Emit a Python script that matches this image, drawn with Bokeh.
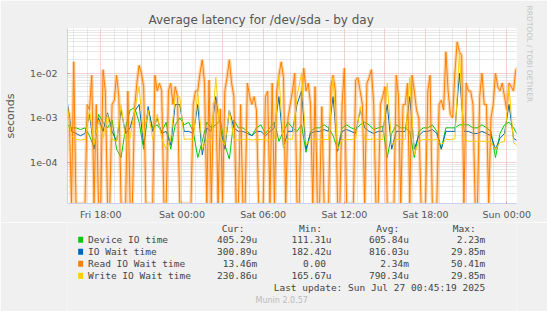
import numpy as np
from bokeh.plotting import figure
from bokeh.models import FixedTicker, Range1d, Title
from bokeh.layouts import column
from bokeh.core.properties import value
from bokeh.embed import file_html
from bokeh.resources import INLINE

# ---------------- data (seconds) ----------------
start_hour = -8.5          # hours relative to Sat 00:00
step_hours = 1.0 / 3.0     # device / io wait / write: one sample every 20 minutes
read_step_hours = 1.0 / 6.0  # read: one sample every 10 minutes

device_io = [
    7e-4, 6e-4, 6e-4, 5.5e-4, 6e-4, 4e-4, 2.2e-4, 1.2e-3, 8e-4, 6e-4,
    9e-4, 2e-4, 1.3e-4, 6e-4, 1.5e-3, 1.7e-3, 8e-4, 2e-4, 1.5e-3, 6e-4,
    7e-4, 5e-4, 8e-4, 2e-4, 7e-4,
    1e-3, 7e-4, 8e-4, 5e-4, 1.3e-4, 3e-4, 8e-4, 6e-4, 7e-4, 9e-4,
    2.5e-4, 1.2e-4, 9e-4, 6e-4, 6e-4, 5e-4, 4e-4, 6e-4, 7e-4, 4.5e-4,
    6e-4, 8e-4, 3e-4, 5e-4, 8e-4,
    6e-4, 5e-4, 7e-4, 1.7e-4, 5e-4, 6e-4, 6e-4, 7e-4, 6e-4, 4e-4,
    2e-4, 6e-4, 7e-4, 6e-4, 5.5e-4, 7e-4, 8e-4, 7e-4, 5.5e-4, 6e-4,
    6.5e-4, 1.3e-4, 4.5e-4, 7e-4, 6e-4,
    6e-4, 5e-4, 1.3e-4, 5e-4, 6e-4, 6e-4, 7e-4, 5e-4, 2e-4, 6e-4,
    6e-4, 6e-4, 7e-4, 7e-4, 7e-4, 6e-4, 6e-4, 7e-4, 6e-4, 5e-4,
    1.3e-4, 4.5e-4, 7e-4, 8e-4, 6e-4, 4.05e-4,
]
io_wait = [
    2.5e-3, 5e-4, 4.5e-4, 4e-4, 4.5e-4, 1.2e-3, 2e-4, 1e-3, 5e-4, 1.3e-3,
    5e-4, 3e-4, 1.5e-3, 4.5e-4, 6e-4, 1.4e-3, 2e-3, 2.5e-4, 1.8e-3, 5e-4,
    1e-3, 4.5e-4, 5e-4, 2.5e-4, 2e-3,
    2e-3, 5e-4, 5e-4, 4.5e-4, 2e-3, 1.5e-4, 6e-4, 5e-4, 3e-3, 6e-4,
    2e-4, 1.5e-3, 6e-4, 5e-4, 5e-4, 4.5e-4, 4e-4, 5e-4, 5e-4, 4e-4,
    5e-4, 6e-4, 3e-3, 2.2e-4, 5e-4,
    5e-4, 2e-3, 4e-3, 2e-4, 4.5e-4, 5e-4, 5e-4, 5.5e-4, 5e-4, 3e-3,
    1.8e-4, 5e-4, 5.5e-4, 5e-4, 4.5e-4, 1.5e-3, 6e-4, 5e-4, 4.5e-4, 5e-4,
    5e-4, 2e-3, 2e-4, 5e-4, 5e-4,
    5e-4, 3e-3, 2e-4, 4e-4, 5e-4, 5e-4, 5.5e-4, 4.5e-4, 2e-4, 5e-4,
    5e-4, 5e-4, 1e-2, 5e-4, 5e-4, 4.5e-4, 4.5e-4, 5e-4, 4.5e-4, 4e-4,
    2e-4, 3.5e-4, 4.5e-4, 2e-3, 3.5e-4, 3.01e-4,
]
read_io = [
    1.7e-3, 1.2e-3, 0, 0.018, 0, 0, 0, 0, 0, 2e-3,
    1.5e-3, 0.009, 0, 2e-3, 0, 0, 0.012, 0.004, 0, 0,
    2e-3, 2.5e-3, 0.009, 0.003, 0, 0, 0, 0.004, 0, 0,
    1.7e-3, 0.006, 0.015, 0.01, 0.005, 0, 0, 0, 0, 0.009,
    0.004, 0.006, 0.004, 0, 0, 0.004, 0.006, 0.002, 0.005, 0.003,
    0, 0, 0, 0, 0, 0, 0.002, 0.004, 0.004, 0.01,
    0.02, 0.006, 0, 0.007, 0, 2e-3, 2.5e-3, 0, 1.6e-3, 0,
    0.004, 0.008, 0.02, 0.006, 0.003, 0, 0, 2e-3, 0, 0,
    0.006, 0.003, 2e-3, 3e-3, 1.5e-3, 0, 0, 0, 0.003, 0.004,
    0, 0.006, 0, 0.004, 0.009, 0.018, 0.008, 0, 1e-3, 0.002,
    0.004, 0.01, 0, 0, 0.003, 0.013, 0.004, 0.006, 0.002, 0,
    0.005, 0, 0, 1.8e-3, 0, 0, 0, 0.005, 0.009, 0.004,
    0, 0, 2e-3, 0.013, 0, 0, 0, 0, 0.007, 0.008,
    0.004, 0.002, 0, 0.006, 0.008, 0.012, 2e-3, 0, 0, 2e-3,
    0.003, 0.005, 0, 0, 0, 0, 0.009, 0.003, 0, 0.002,
    0.002, 0.006, 0, 0.009, 0.004, 1.5e-3, 1e-3, 0, 0, 0,
    0.004, 0.009, 0, 0, 0, 2e-3, 2.5e-3, 1.5e-3, 0.03, 0.004,
    1.2e-3, 0.001, 0.01, 0.05, 0.03, 0.025, 0, 0.006, 0.004, 0.004,
    0.002, 0, 0, 0.003, 0.01, 2e-3, 0.002, 0, 0.001, 2e-3,
    0.01, 0.005, 0.004, 0.006, 0.003, 1.5e-3, 0.006, 0.005, 0.004, 0.012,
    0.01346,
]
write_io = [
    2e-3, 4e-4, 3.3e-4, 3.2e-4, 3.3e-4, 1.5e-3, 2.5e-4, 9e-4, 3.5e-4, 1.2e-3,
    3.3e-4, 3e-4, 2e-3, 3.2e-4, 3.5e-4, 1.5e-3, 5e-3, 3.5e-4, 1.5e-3, 3.3e-4,
    1.2e-3, 3.5e-4, 2e-4, 3.3e-4, 3e-3,
    3e-3, 3.3e-4, 3.4e-4, 3.3e-4, 4e-3, 2e-4, 3.3e-4, 3.3e-4, 8e-3, 3.5e-4,
    2.5e-4, 1.5e-3, 3.3e-4, 3.2e-4, 3.3e-4, 3.4e-4, 3.2e-4, 3.3e-4, 3.3e-4, 3.2e-4,
    3.3e-4, 3.4e-4, 9e-3, 2.2e-4, 3.4e-4,
    3.3e-4, 3e-3, 1e-2, 2.5e-4, 3.3e-4, 3.4e-4, 3.3e-4, 3.3e-4, 3.3e-4, 8e-3,
    2e-4, 3.3e-4, 3.3e-4, 3.3e-4, 3.4e-4, 1.8e-3, 3.3e-4, 3.3e-4, 3.4e-4, 3.3e-4,
    3.3e-4, 6e-3, 2.5e-4, 3.3e-4, 3.3e-4,
    3.3e-4, 8e-3, 1.5e-4, 3e-4, 3.3e-4, 3.3e-4, 3.2e-4, 3.3e-4, 2.5e-4, 3.3e-4,
    3.3e-4, 3.4e-4, 3e-2, 3.3e-4, 3e-4, 3e-4, 3e-4, 3e-4, 3e-4, 2.8e-4,
    2e-4, 2.8e-4, 3e-4, 5e-3, 2.8e-4, 2.3086e-4,
]

series_names = ["Device IO time", "IO Wait time", "Read IO Wait time", "Write IO Wait time"]
series_colors = ["#00CC00", "#0066B3", "#FF8000", "#FFCC00"]
cur_vals = ["405.29u", "300.89u", "13.46m", "230.86u"]
min_vals = ["111.31u", "182.42u", "0.00", "165.67u"]
avg_vals = ["605.84u", "816.03u", "2.34m", "790.34u"]
max_vals = ["2.23m", "29.85m", "50.41m", "29.85m"]
col_headers = ["Cur:", "Min:", "Avg:", "Max:"]

xtick_hours = [-6, 0, 6, 12, 18, 24]
xtick_labels = ["Fri 18:00", "Sat 00:00", "Sat 06:00", "Sat 12:00", "Sat 18:00", "Sun 00:00"]
ytick_values = [1e-4, 1e-3, 1e-2]
ytick_labels = ["1e-04", "1e-03", "1e-02"]

title_text = "Average latency for /dev/sda - by day"
last_update = "Last update: Sun Jul 27 00:45:19 2025"
munin_version = "Munin 2.0.57"
side_text = "RRDTOOL / TOBI OETIKER"

# ---------------- main chart ----------------
W, H = 547, 311
FL, FR, FT, FB = 67, 516, 28, 203
H1 = 222                      # height of the chart part, legend below
y_lo, y_hi = 1.22e-5, 0.1
x_lo, x_hi = -8.46, 24.72
BG = "#F0F0F0"
FONT = "DejaVu Sans"
MONO = "DejaVu Sans Mono"
AXIS_BLUE = "#C9D1F2"

p = figure(width=W, height=H1, y_axis_type="log",
           x_range=Range1d(x_lo, x_hi), y_range=Range1d(y_lo, y_hi),
           output_backend="svg", toolbar_location=None,
           min_border_left=FL, min_border_right=W - FR,
           min_border_top=FT, min_border_bottom=H1 - FB)
p.title.text = title_text
p.title.align = "left"
p.title.offset = 81
p.title.standoff = 3
p.title.text_font = FONT
p.title.text_font_size = "12px"
p.title.text_font_style = "normal"
p.title.text_color = "#555555"
p.add_layout(Title(text=side_text, align="left", offset=-23, text_font=FONT,
                   text_font_size="7.5px", text_font_style="normal",
                   text_color="#C4C4C4", standoff=16), "right")
p.background_fill_color = "white"
p.border_fill_color = BG
p.outline_line_color = None

p.xaxis.ticker = FixedTicker(ticks=xtick_hours)
p.xaxis.major_label_overrides = dict(zip(xtick_hours, xtick_labels))
p.yaxis.ticker = FixedTicker(ticks=ytick_values)
p.yaxis.major_label_overrides = dict(zip(ytick_values, ytick_labels))
for ax in (p.xaxis, p.yaxis):
    ax.axis_line_color = AXIS_BLUE
    ax.major_tick_line_color = "#E09090"
    ax.major_tick_out = 0
    ax.major_tick_in = 2
    ax.minor_tick_line_color = None
    ax.major_label_text_font = FONT
    ax.major_label_text_font_size = "9.5px"
    ax.major_label_text_color = "#555555"
p.xaxis.major_label_standoff = 5
p.yaxis.major_label_standoff = 10
p.yaxis.axis_label = "seconds"
p.yaxis.axis_label_text_font = FONT
p.yaxis.axis_label_text_font_style = "normal"
p.yaxis.axis_label_text_font_size = "11px"
p.yaxis.axis_label_text_color = "#555555"
p.yaxis.axis_label_standoff = 10

major_x = [h for h in range(-9, 26) if h % 3 == 0]
minor_x = [h for h in range(-9, 26) if h % 3 != 0]
p.xgrid.ticker = FixedTicker(ticks=major_x, minor_ticks=minor_x)
decades = [10.0 ** e for e in range(-5, 0)]
minor_y = [k * 10.0 ** e for e in range(-5, -1) for k in range(2, 10)]
p.ygrid.ticker = FixedTicker(ticks=decades, minor_ticks=minor_y)
for g in (p.xgrid, p.ygrid):
    g.grid_line_color = "#E8A0A0"
    g.grid_line_dash = "1 1"
    g.grid_line_width = 1
    g.minor_grid_line_color = "#D2D2D2"
    g.minor_grid_line_dash = "1 1"
    g.minor_grid_line_width = 1

hours = start_hour + step_hours * np.arange(len(device_io))
read_hours = start_hour + read_step_hours * np.arange(len(read_io))
series_hours = [hours, hours, read_hours, hours]
all_series = [device_io, io_wait, read_io, write_io]
for xs, vals, col, name in zip(series_hours, all_series, series_colors, series_names):
    arr = np.maximum(np.asarray(vals, dtype=float), y_lo)   # rrdtool clamps zeros to the bottom
    if name.startswith("Read"):
        p.line(xs, arr, line_color=col, line_width=3.5, line_alpha=0.3)
    p.line(xs, arr, line_color=col, line_width=1)

# ---------------- legend part (pixel coordinates of the page) ----------------
lg = figure(width=W, height=H - H1, x_range=Range1d(0, W), y_range=Range1d(H, H1),
            output_backend="svg", toolbar_location=None,
            x_axis_location=None, y_axis_location=None,
            min_border=0, min_border_left=0, min_border_right=0,
            min_border_top=0, min_border_bottom=0)
lg.grid.visible = False
lg.background_fill_color = BG
lg.border_fill_color = BG
lg.outline_line_color = None

head_y = 228.3
row_y = [239.3, 251.3, 263.3, 275.3]
head_right = [215.7, 310, 404, 497.3]
col_right = [231, 321.7, 416, 509]
TXT = "#444444"

lg.text(x=head_right, y=[head_y] * 4, text=col_headers, text_font=value(MONO),
        text_font_size="9.5px", text_align="right", text_baseline="middle", text_color=TXT)
lg.quad(left=[13] * 4, right=[19] * 4, top=[y - 3 for y in row_y], bottom=[y + 3 for y in row_y],
        fill_color=series_colors, line_color=None)
lg.text(x=[25] * 4, y=row_y, text=series_names, text_font=value(MONO),
        text_font_size="9.5px", text_align="left", text_baseline="middle", text_color=TXT)
for cx, vals in zip(col_right, [cur_vals, min_vals, avg_vals, max_vals]):
    shown = [s + "\u00a0" if s[-1].isdigit() else s for s in vals]
    lg.text(x=[cx] * 4, y=row_y, text=shown, text_font=value(MONO),
            text_font_size="9.5px", text_align="right", text_baseline="middle", text_color=TXT)
lg.text(x=[509], y=[287.3], text=[last_update], text_font=value(MONO),
        text_font_size="9.5px", text_align="right", text_baseline="middle", text_color=TXT)
lg.text(x=[261], y=[300.3], text=[munin_version], text_font=value(FONT),
        text_font_size="8px", text_align="center", text_baseline="middle", text_color="#BBBBBB")

page = column(p, lg, spacing=0)
open("out.html", "w").write(file_html(page, INLINE))
